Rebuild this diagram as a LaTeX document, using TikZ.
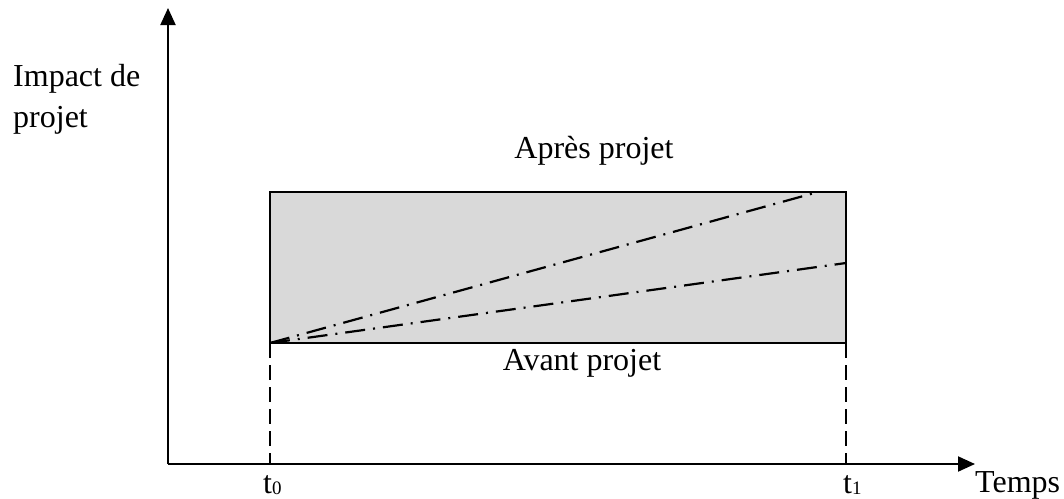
\documentclass[tikz,border=0pt]{standalone}
\usepackage{fontspec}
\setmainfont{Liberation Serif}
\usetikzlibrary{arrows.meta}
\definecolor{boxgray}{RGB}{217,217,217}
\begin{document}
\begin{tikzpicture}[x=1pt,y=-1pt,
  axis/.style={line width=2pt,-{Triangle[length=17pt,width=15pt]}},
  lbl/.style={inner sep=0pt,font=\fontsize{32}{41}\selectfont},
  dashdot/.style={line width=2.2pt,dash pattern=on 20pt off 8pt on 2pt off 8pt},
  vdash/.style={line width=2.2pt,dash pattern=on 15pt off 7pt},
  impactbox/.style={draw,line width=2pt,fill=boxgray,outer sep=0pt,inner sep=0pt,
    minimum width=576pt,minimum height=151pt}]
\useasboundingbox (0,0) rectangle (1064,498);
\coordinate (origin) at (168,464);
\coordinate (ytop) at (168,8);
\coordinate (xend) at (975,464);
\node[impactbox,anchor=south west] (box) at (270,343) {};
\coordinate (up) at (818,192);
\coordinate (low) at (846,263);
\coordinate (t0) at (box.south west |- origin);
\coordinate (t1) at (box.south east |- origin);
\draw[dashdot] (box.south west) -- (up);
\draw[dashdot] (box.south west) -- (low);
\draw[vdash] (box.south west) -- (t0);
\draw[vdash] (box.south east) -- (t1);
\draw[axis] (origin) -- (ytop);
\draw[axis] (origin) -- (xend);
\node[lbl,anchor=base west,align=left] (ylab) at (13,127) {Impact de\\projet};
\node[lbl,anchor=base] (apres) at (594,158) {Après projet};
\node[lbl,anchor=base] (avant) at (582,370) {Avant projet};
\node[lbl,anchor=base west] (lt0) at (263,493) {t{\fontsize{19}{19}\selectfont\raisebox{-1pt}{0}}};
\node[lbl,anchor=base west] (lt1) at (843,493) {t{\fontsize{19}{19}\selectfont\raisebox{-1pt}{1}}};
\node[lbl,anchor=base west] (temps) at (975,492) {Temps};
\end{tikzpicture}
\end{document}
